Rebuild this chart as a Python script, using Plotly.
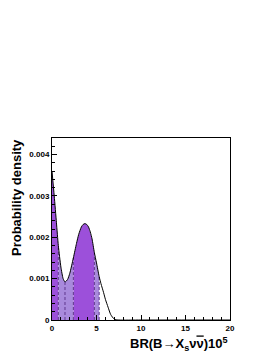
import plotly.graph_objects as go

# Curve samples (x in units of 1e-5, y probability density)
br = [0.0, 0.25, 0.5, 0.71, 1.0, 1.25, 1.46, 1.75, 2.0, 2.4, 2.75, 3.0, 3.3, 3.5, 3.7, 3.9,
      4.1, 4.3, 4.5, 4.76, 5.0, 5.3, 5.5, 5.8, 6.0, 6.3, 6.6, 7.0, 7.5, 10.0, 20.0]
dens = [0.00360, 0.00300, 0.00235, 0.00180, 0.00128, 0.00100, 0.00092, 0.00098, 0.00113,
        0.00150, 0.00185, 0.00207, 0.00225, 0.00231, 0.00233, 0.00231, 0.00225, 0.00213,
        0.00196, 0.00163, 0.00138, 0.00105, 0.00088, 0.00066, 0.00050, 0.00031, 0.00013,
        0.00002, 0.0, 0.0, 0.0]

# Credible-interval boundaries
b_68 = [(0.0, 0.71), (2.4, 4.76)]
b_95 = [(0.71, 2.4), (4.76, 5.3)]
dashes = [0.71, 1.46, 2.4, 4.76, 5.3]

dark = "rgb(156,80,218)"
light = "rgb(168,138,220)"

fig = go.Figure()

def add_band(lo, hi, color):
    xs = [x for x in br if lo <= x <= hi]
    ys = [dens[br.index(x)] for x in xs]
    fig.add_trace(go.Scatter(x=[xs[0]] + xs + [xs[-1]], y=[0] + ys + [0], fill="toself",
                             fillcolor=color, line=dict(width=0), mode="lines",
                             hoverinfo="skip", showlegend=False))

for lo, hi in b_68:
    add_band(lo, hi, dark)
for lo, hi in b_95:
    add_band(lo, hi, light)

for d in dashes:
    fig.add_trace(go.Scatter(x=[d, d], y=[0, dens[br.index(d)]], mode="lines",
                             line=dict(color="rgb(95,55,140)", width=1, dash="3px,2px"),
                             showlegend=False, hoverinfo="skip"))

fig.add_trace(go.Scatter(x=br, y=dens, mode="lines", line=dict(color="black", width=1, shape="spline", smoothing=0.6),
                         showlegend=False))

tickfont = dict(family="Liberation Sans, Arial", size=8, color="black", weight="bold")
fig.update_layout(
    width=276, height=357,
    margin=dict(l=52, r=46, t=138, b=37),
    paper_bgcolor="white", plot_bgcolor="white",
    xaxis=dict(range=[0, 20], showgrid=False, zeroline=False, showline=True, mirror=True,
               linecolor="black", linewidth=1, ticks="inside", ticklen=5, tickcolor="black",
               tickvals=[0, 5, 10, 15, 20], ticktext=["0", "5", "10", "15", "20"],
               tickfont=tickfont,
               minor=dict(dtick=1, ticks="inside", ticklen=3, tickcolor="black")),
    yaxis=dict(range=[0, 0.0044], showgrid=False, zeroline=False, showline=True, mirror=True,
               linecolor="black", linewidth=1, ticks="inside", ticklen=5, tickcolor="black",
               tickvals=[0, 0.001, 0.002, 0.003, 0.004],
               ticktext=["0", "0.001", "0.002", "0.003", "0.004"],
               tickfont=tickfont,
               minor=dict(dtick=0.0002, ticks="inside", ticklen=3, tickcolor="black")),
    annotations=[
        dict(text='BR(B→X<sub>s</sub>ν<span style="text-decoration:overline">ν</span>)10<sup>5</sup>',
             xref="paper", yref="paper",
             x=1.0, y=-0.07, xanchor="right", yanchor="top", showarrow=False,
             font=dict(family="Liberation Sans, Arial", size=13, color="black", weight="bold")),
        dict(text="Probability density", xref="paper", yref="paper", textangle=-90,
             x=-0.2, y=1.005, xanchor="center", yanchor="top", showarrow=False,
             font=dict(family="Liberation Sans, Arial", size=13, color="black", weight="bold")),
    ],
)

fig.write_html("out.html", config={"displayModeBar": False},
               post_script="document.body.style.margin='0';")
